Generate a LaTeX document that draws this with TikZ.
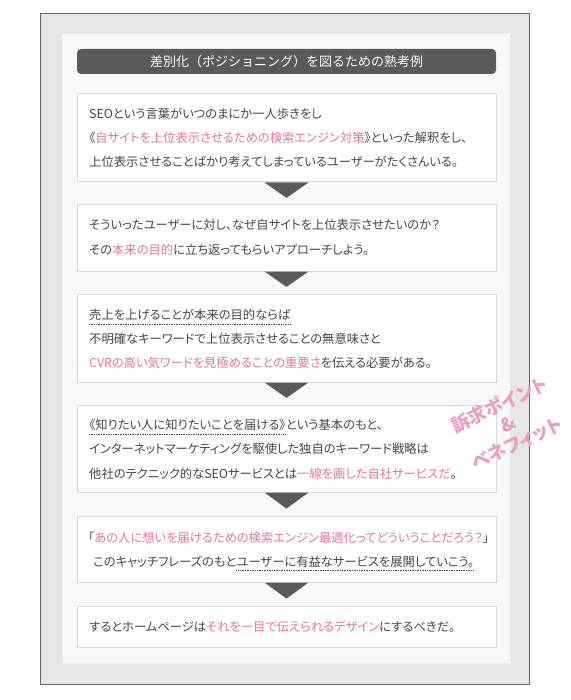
\documentclass[tikz,border=0pt]{standalone}
\usepackage{fontspec}
\setmainfont{Noto Sans CJK JP}[RawFeature=+palt]
\newfontfamily\titlefont{Noto Sans CJK JP}
\usetikzlibrary{calc}
\definecolor{sgborder}{RGB}{102,102,102}
\definecolor{sgouter}{RGB}{230,230,230}
\definecolor{sgpanel}{RGB}{248,248,248}
\definecolor{sgdark}{RGB}{90,90,90}
\definecolor{sgtext}{RGB}{70,70,70}
\definecolor{sgpink}{RGB}{226,118,160}
\definecolor{sgline}{RGB}{218,218,218}
\definecolor{sgstamp}{RGB}{233,160,190}
\newcommand{\pk}[1]{\textcolor{sgpink}{#1}}

\begin{document}
\begin{tikzpicture}[x=1pt, y=-1pt,
  every node/.style={inner sep=0pt, font=\fontsize{12.3}{14}\selectfont, text=sgtext},
  stepbox/.style={draw=sgline, fill=white, line width=1pt, minimum width=419pt},
  textline/.style={anchor=base west},
  arrowhead/.style={fill=sgdark},
  uline/.style={densely dotted, sgtext, line width=0.7pt}]
  \useasboundingbox (0,0) rectangle (570,700);

  % Outer frame and inner panel
  \draw[sgborder, fill=sgouter] (40,13) rectangle (529,684);
  \draw[sgouter!70!white, fill=sgpanel] (62,33) rectangle (510,663);

  % Title bar
  \node[fill=sgdark, rounded corners=4pt, minimum width=419pt, minimum height=25pt,
    text=white, font=\titlefont\fontsize{13}{14}\selectfont] (title) at (286.5,61.5)
    {差別化（ポジショニング）を図るための熟考例};

  % Box 1
  \node[stepbox, minimum height=88pt] (b1) at (286.5,138) {};
  \node[textline] (b1l1) at (89,118.5) {SEOという言葉がいつのまにか一人歩きをし};
  \node[textline] (b1l2) at (89,142.5) {《\pk{自サイトを上位表示させるための検索エンジン対策}》といった解釈をし、};
  \node[textline] (b1l3) at (89,167) {上位表示させることばかり考えてしまっているユーザーがたくさんいる。};

  % Box 2
  \node[stepbox, minimum height=66pt] (b2) at (286.5,238) {};
  \node[textline] (b2l1) at (89,229.5) {そういったユーザーに対し、なぜ自サイトを上位表示させたいのか？};
  \node[textline] (b2l2) at (89,254.5) {その\pk{本来の目的}に立ち返ってもらいアプローチしよう。};

  % Box 3
  \node[stepbox, minimum height=88pt] (b3) at (286.5,338) {};
  \node[textline] (b3u) at (89,319.5) {売上を上げることが本来の目的ならば};
  \draw[uline] ($(b3u.base west)+(0,5)$) -- ($(b3u.base east)+(0,5)$);
  \node[textline] (b3l2) at (89,343.5) {不明確なキーワードで上位表示させることの無意味さと};
  \node[textline] (b3l3) at (89,367.5) {\pk{CVRの高い気ワードを見極めることの重要さ}を伝える必要がある。};

  % Box 4
  \node[stepbox, minimum height=87pt] (b4) at (286.5,448.5) {};
  \node[textline] (b4u) at (89,429.5) {《知りたい人に知りたいことを届ける》};
  \node[textline] (b4l1) at (b4u.base east) {という基本のもと、};
  \draw[uline] ($(b4u.base west)+(0,5)$) -- ($(b4u.base east)+(0,5)$);
  \node[textline] (b4l2) at (89,453.5) {インターネットマーケティングを駆使した独自のキーワード戦略は};
  \node[textline] (b4l3) at (89,478) {他社のテクニック的なSEOサービスとは\pk{一線を画した自社サービスだ}。};

  % Box 5
  \node[stepbox, minimum height=66pt] (b5) at (286.5,549) {};
  \node[textline] (b5l1) at (88,542.5) {「\pk{あの人に想いを届けるための検索エンジン最適化ってどういうことだろう？}」};
  \node[textline] (b5l2) at (93,566.5) {このキャッチフレーズのもと};
  \node[textline] (b5u) at (b5l2.base east) {ユーザーに有益なサービスを展開していこう。};
  \draw[uline] ($(b5u.base west)+(0,4)$) -- ($(b5u.base east)+(0,4)$);

  % Box 6
  \node[stepbox, minimum height=41pt] (b6) at (286.5,626.5) {};
  \node[textline] (b6l1) at (89,631.5) {するとホームページは\pk{それを一目で伝えられるデザイン}にするべきだ。};

  % Down triangles between boxes
  \foreach \a/\b in {b1/b2, b2/b3, b3/b4, b4/b5, b5/b6}
    \fill[arrowhead] ($(\a.south)+(-22,0)$) -- ($(\a.south)+(22,0)$)
      -- ($(\a.south)!0.7!(\b.north)$) -- cycle;

  % Stamp
  \node[rotate=25, align=center, text=sgstamp, font=\bfseries\fontsize{18.5}{21}\selectfont]
    (stamp) at (508,424) {訴求ポイント\\\&\\ベネフィット};
\end{tikzpicture}
\end{document}
